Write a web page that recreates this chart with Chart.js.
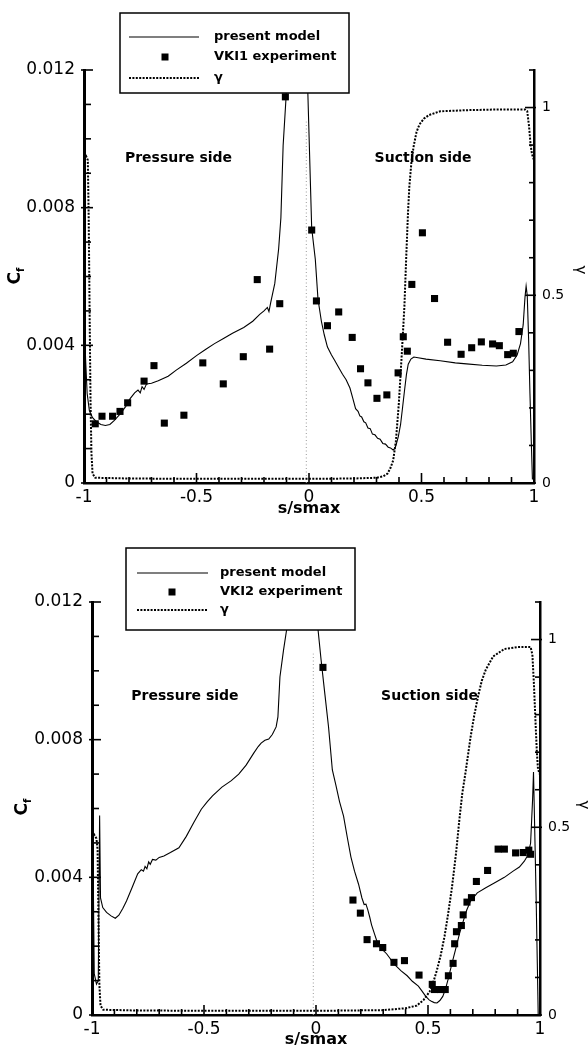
<!DOCTYPE html>
<html>
<head>
<meta charset="utf-8">
<script src="https://cdn.jsdelivr.net/npm/chart.js@4.4.1/dist/chart.umd.min.js"></script>
<style>
  body { margin: 0; background: #fff; width: 588px; height: 1049px; overflow: hidden; position: relative; }
  canvas { position: absolute; left: 0; }
  #c1 { top: 0; }
  #c2 { top: 530px; }
</style>
</head>
<body>
<canvas id="c1" width="588" height="520"></canvas>
<canvas id="c2" width="588" height="519"></canvas>
<script>
// axis ticks
const sTicks = [-1, -0.5, 0, 0.5, 1];
const sLabels = ['-1', '-0.5', '0', '0.5', '1'];
const sMinor = [-0.9, -0.8, -0.7, -0.6, -0.4, -0.3, -0.2, -0.1, 0.1, 0.2, 0.3, 0.4, 0.6, 0.7, 0.8, 0.9];
const cfTicks = [0, 0.004, 0.008, 0.012];
const cfLabels = ['0', '0.004', '0.008', '0.012'];
const cfMinor = [0.001, 0.002, 0.003, 0.005, 0.006, 0.007, 0.009, 0.010, 0.011];
const gammaTicks = [0, 0.5, 1];
const gammaLabels = ['0', '0.5', '1'];
const gammaMinor = [0.1, 0.2, 0.3, 0.4, 0.6, 0.7, 0.8, 0.9, 1.1];

// leading edge marker
const dividerS = [-0.012, -0.012];
const dividerCf = [0, 0.0105];

// VKI1 case
const vki1ModelS = [-1.000, -0.997, -0.993, -0.986, -0.976, -0.962, -0.945, -0.925, -0.905, -0.885, -0.865, -0.840, -0.815, -0.795, -0.775, -0.760, -0.750, -0.742, -0.733, -0.722, -0.700, -0.670, -0.626, -0.590, -0.545, -0.500, -0.460, -0.420, -0.380, -0.340, -0.290, -0.250, -0.219, -0.200, -0.185, -0.178, -0.170, -0.152, -0.135, -0.125, -0.115, -0.102, -0.090, -0.050, -0.020, -0.005, 0.012, 0.028, 0.040, 0.055, 0.068, 0.082, 0.100, 0.115, 0.135, 0.149, 0.165, 0.182, 0.195, 0.207, 0.218, 0.226, 0.234, 0.244, 0.252, 0.262, 0.272, 0.282, 0.293, 0.305, 0.316, 0.328, 0.340, 0.352, 0.362, 0.374, 0.380, 0.386, 0.397, 0.407, 0.416, 0.424, 0.433, 0.441, 0.453, 0.466, 0.485, 0.520, 0.583, 0.650, 0.700, 0.770, 0.833, 0.875, 0.905, 0.925, 0.940, 0.952, 0.960, 0.965, 0.970, 0.976, 0.982, 0.988, 0.993];
const vki1ModelCf = [0.0002, 0.0047, 0.0036, 0.0026, 0.0021, 0.0019, 0.00178, 0.00170, 0.00167, 0.00170, 0.00182, 0.00200, 0.00222, 0.00245, 0.00262, 0.00270, 0.00262, 0.00280, 0.00272, 0.00288, 0.00290, 0.00297, 0.00310, 0.00328, 0.00348, 0.00370, 0.00388, 0.00405, 0.00420, 0.00435, 0.00452, 0.00470, 0.00490, 0.00500, 0.00510, 0.00498, 0.00525, 0.00580, 0.00680, 0.00770, 0.00980, 0.01120, 0.01300, 0.01750, 0.01800, 0.01130, 0.00740, 0.00650, 0.00534, 0.00470, 0.00430, 0.00395, 0.00372, 0.00355, 0.00332, 0.00316, 0.00300, 0.00276, 0.00245, 0.00216, 0.00208, 0.00195, 0.00192, 0.00178, 0.00175, 0.00160, 0.00158, 0.00142, 0.00140, 0.00130, 0.00127, 0.00115, 0.00113, 0.00104, 0.00102, 0.00096, 0.00099, 0.00108, 0.00135, 0.00170, 0.00220, 0.00266, 0.00315, 0.00345, 0.00360, 0.00366, 0.00364, 0.00360, 0.00355, 0.00349, 0.00346, 0.00342, 0.00340, 0.00343, 0.00352, 0.00372, 0.00405, 0.00460, 0.00540, 0.00572, 0.00545, 0.00420, 0.00260, 0.00120, 0.00010];
const vki1GammaS = [-1.000, -0.990, -0.983, -0.979, -0.975, -0.971, -0.967, -0.962, -0.950, -0.800, -0.500, -0.200, 0.000, 0.200, 0.300, 0.330, 0.349, 0.362, 0.374, 0.386, 0.399, 0.412, 0.424, 0.432, 0.440, 0.446, 0.456, 0.466, 0.478, 0.491, 0.510, 0.533, 0.583, 0.700, 0.850, 0.960, 0.970, 0.978, 0.985, 0.991, 1.000];
const vki1Gamma = [0.86, 0.87, 0.86, 0.70, 0.45, 0.22, 0.08, 0.025, 0.014, 0.012, 0.011, 0.011, 0.011, 0.012, 0.014, 0.018, 0.025, 0.040, 0.060, 0.110, 0.210, 0.340, 0.470, 0.600, 0.720, 0.790, 0.860, 0.900, 0.935, 0.955, 0.970, 0.980, 0.990, 0.993, 0.995, 0.995, 0.990, 0.950, 0.900, 0.876, 0.860];
const vki1ExpS = [-0.950, -0.920, -0.873, -0.840, -0.806, -0.733, -0.689, -0.643, -0.556, -0.472, -0.381, -0.292, -0.230, -0.175, -0.130, -0.105, 0.012, 0.033, 0.082, 0.132, 0.192, 0.229, 0.262, 0.302, 0.346, 0.396, 0.419, 0.437, 0.457, 0.504, 0.558, 0.616, 0.676, 0.723, 0.766, 0.816, 0.846, 0.883, 0.908, 0.933];
const vki1ExpCf = [0.00172, 0.00194, 0.00194, 0.00208, 0.00233, 0.00296, 0.00341, 0.00174, 0.00197, 0.00349, 0.00288, 0.00367, 0.00591, 0.00389, 0.00521, 0.01122, 0.00735, 0.00529, 0.00457, 0.00497, 0.00423, 0.00332, 0.00291, 0.00246, 0.00256, 0.00320, 0.00425, 0.00383, 0.00577, 0.00727, 0.00536, 0.00409, 0.00374, 0.00393, 0.00410, 0.00404, 0.00399, 0.00373, 0.00377, 0.00440];

// VKI2 case
const vki2ModelS = [-1.000, -0.996, -0.990, -0.980, -0.972, -0.966, -0.962, -0.952, -0.935, -0.915, -0.896, -0.880, -0.862, -0.846, -0.820, -0.796, -0.780, -0.770, -0.763, -0.755, -0.747, -0.740, -0.730, -0.715, -0.700, -0.679, -0.650, -0.612, -0.579, -0.545, -0.512, -0.485, -0.462, -0.420, -0.378, -0.345, -0.312, -0.278, -0.258, -0.245, -0.228, -0.211, -0.195, -0.178, -0.170, -0.161, -0.145, -0.131, -0.110, -0.060, -0.020, 0.009, 0.023, 0.040, 0.056, 0.073, 0.089, 0.105, 0.123, 0.140, 0.156, 0.172, 0.190, 0.205, 0.215, 0.223, 0.231, 0.240, 0.248, 0.260, 0.273, 0.285, 0.300, 0.315, 0.330, 0.345, 0.357, 0.380, 0.407, 0.430, 0.457, 0.475, 0.490, 0.505, 0.515, 0.528, 0.540, 0.553, 0.566, 0.578, 0.590, 0.607, 0.624, 0.640, 0.657, 0.673, 0.690, 0.720, 0.758, 0.800, 0.841, 0.880, 0.908, 0.930, 0.941, 0.952, 0.958, 0.963, 0.967, 0.971, 0.977, 0.983, 0.988, 0.992];
const vki2ModelCf = [0.0000, 0.0050, 0.0012, 0.0009, 0.0010, 0.0058, 0.0034, 0.00312, 0.00298, 0.00288, 0.00281, 0.00290, 0.00310, 0.00331, 0.00372, 0.00410, 0.00422, 0.00418, 0.00432, 0.00425, 0.00445, 0.00438, 0.00452, 0.00450, 0.00458, 0.00462, 0.00472, 0.00486, 0.00519, 0.00560, 0.00598, 0.00620, 0.00637, 0.00662, 0.00681, 0.00700, 0.00726, 0.00761, 0.00780, 0.00790, 0.00798, 0.00802, 0.00815, 0.00837, 0.00866, 0.00982, 0.01060, 0.01120, 0.01300, 0.01900, 0.02000, 0.01120, 0.01030, 0.00930, 0.00837, 0.00712, 0.00667, 0.00620, 0.00578, 0.00515, 0.00459, 0.00418, 0.00380, 0.00340, 0.00321, 0.00322, 0.00306, 0.00284, 0.00262, 0.00238, 0.00212, 0.00203, 0.00188, 0.00178, 0.00165, 0.00150, 0.00143, 0.00128, 0.00114, 0.00098, 0.00084, 0.00068, 0.00054, 0.00044, 0.00040, 0.00036, 0.00035, 0.00042, 0.00054, 0.00075, 0.00104, 0.00150, 0.00193, 0.00235, 0.00272, 0.00305, 0.00331, 0.00355, 0.00370, 0.00385, 0.00400, 0.00418, 0.00430, 0.00447, 0.00459, 0.00482, 0.00499, 0.00570, 0.00627, 0.00706, 0.00520, 0.00331, 0.00150, 0.00000];
const vki2GammaS = [-1.000, -0.990, -0.980, -0.975, -0.971, -0.967, -0.962, -0.950, -0.800, -0.400, 0.000, 0.300, 0.400, 0.450, 0.480, 0.507, 0.525, 0.540, 0.557, 0.574, 0.590, 0.607, 0.625, 0.640, 0.653, 0.666, 0.690, 0.707, 0.724, 0.740, 0.758, 0.791, 0.841, 0.900, 0.958, 0.966, 0.973, 0.980, 0.986, 0.991, 1.000];
const vki2Gamma = [0.47, 0.48, 0.47, 0.44, 0.25, 0.08, 0.025, 0.014, 0.012, 0.011, 0.011, 0.013, 0.018, 0.025, 0.040, 0.062, 0.090, 0.120, 0.160, 0.210, 0.270, 0.340, 0.430, 0.520, 0.590, 0.640, 0.740, 0.800, 0.850, 0.890, 0.920, 0.955, 0.975, 0.980, 0.980, 0.960, 0.880, 0.780, 0.700, 0.655, 0.640];
const vki2ExpS = [0.031, 0.165, 0.198, 0.228, 0.270, 0.298, 0.348, 0.395, 0.460, 0.519, 0.529, 0.554, 0.577, 0.591, 0.612, 0.619, 0.627, 0.649, 0.657, 0.674, 0.694, 0.716, 0.766, 0.813, 0.841, 0.891, 0.925, 0.950, 0.958];
const vki2ExpCf = [0.0101, 0.00334, 0.00296, 0.00219, 0.00207, 0.00196, 0.00153, 0.00158, 0.00116, 0.00089, 0.00074, 0.00074, 0.00074, 0.00114, 0.00150, 0.00207, 0.00242, 0.00260, 0.00291, 0.00328, 0.00341, 0.00388, 0.00420, 0.00482, 0.00482, 0.00471, 0.00472, 0.00479, 0.00467];

const FONT = "'DejaVu Sans', sans-serif";
Chart.defaults.font.family = FONT;
Chart.defaults.color = '#000';

function pts(xs, ys) {
  return xs.map((x, i) => ({ x: x, y: ys[i] }));
}

function lineAt(ctx, x1, y1, x2, y2) {
  ctx.beginPath();
  ctx.moveTo(x1, y1);
  ctx.lineTo(x2, y2);
  ctx.stroke();
}

// inward tick marks, drawn through the scales
const tickMarks = {
  id: 'tickMarks',
  afterDatasetsDraw(chart) {
    const ctx = chart.ctx, a = chart.chartArea;
    const sx = chart.scales.x, sy = chart.scales.y, sg = chart.scales.yg;
    ctx.save();
    ctx.strokeStyle = '#000';
    ctx.lineWidth = 1.6;
    sTicks.forEach(v => { const x = sx.getPixelForValue(v); lineAt(ctx, x, a.bottom, x, a.bottom - 10); });
    sMinor.forEach(v => { const x = sx.getPixelForValue(v); lineAt(ctx, x, a.bottom, x, a.bottom - 6); });
    cfTicks.forEach(v => { const y = sy.getPixelForValue(v); lineAt(ctx, a.left - 3, y, a.left + 9, y); });
    cfMinor.forEach(v => { const y = sy.getPixelForValue(v); lineAt(ctx, a.left, y, a.left + 7, y); });
    gammaTicks.forEach(v => { const y = sg.getPixelForValue(v); lineAt(ctx, a.right + 2, y, a.right - 9, y); });
    gammaMinor.forEach(v => { const y = sg.getPixelForValue(v); lineAt(ctx, a.right, y, a.right - 5, y); });
    ctx.restore();
  }
};

// "Pressure side" / "Suction side" and the rotated axis titles
const notes = {
  id: 'notes',
  afterDatasetsDraw(chart, args, o) {
    const ctx = chart.ctx, sx = chart.scales.x, sy = chart.scales.y;
    ctx.save();
    ctx.fillStyle = '#000';
    ctx.font = 'bold 14px ' + FONT;
    ctx.textAlign = 'center';
    ctx.textBaseline = 'middle';
    o.items.forEach(n => ctx.fillText(n.text, sx.getPixelForValue(n.s), sy.getPixelForValue(n.cf)));

    // C_f
    ctx.translate(o.cf[0], o.cf[1]);
    ctx.rotate(-Math.PI / 2);
    ctx.textAlign = 'left';
    ctx.font = 'bold 17px ' + FONT;
    const wC = ctx.measureText('C').width;
    ctx.font = 'bold 10px ' + FONT;
    const wf = ctx.measureText('f').width;
    const x0 = -(wC + wf) / 2;
    ctx.font = 'bold 17px ' + FONT;
    ctx.fillText('C', x0, 0);
    ctx.font = 'bold 10px ' + FONT;
    ctx.fillText('f', x0 + wC, 5);
    ctx.setTransform(1, 0, 0, 1, 0, 0);

    // gamma
    ctx.translate(o.g[0], o.g[1]);
    ctx.rotate(Math.PI / 2);
    ctx.textAlign = 'center';
    ctx.font = '15px ' + FONT;
    ctx.fillText('γ', 0, 0);
    ctx.restore();
  }
};

const boxLegend = {
  id: 'boxLegend',
  afterDraw(chart, args, o) {
    const ctx = chart.ctx;
    ctx.save();
    ctx.fillStyle = '#fff';
    ctx.fillRect(o.x, o.y, o.w, o.h);
    ctx.strokeStyle = '#000';
    ctx.lineWidth = 1.5;
    ctx.strokeRect(o.x, o.y, o.w, o.h);
    ctx.font = 'bold 13px ' + FONT;
    ctx.textBaseline = 'middle';
    chart.data.datasets.filter(d => d.label).forEach((d, i) => {
      const y = o.y + o.rows[i];
      ctx.fillStyle = '#000';
      if (d.showLine) {
        ctx.strokeStyle = d.borderColor;
        ctx.lineWidth = d.borderWidth;
        ctx.setLineDash(d.borderDash || []);
        lineAt(ctx, o.x + o.from, y, o.x + o.to, y);
        ctx.setLineDash([]);
      } else {
        ctx.fillRect(o.x + o.mark - 3.5, y - 3.5, 7, 7);
      }
      ctx.fillText(d.label, o.x + o.text, y);
    });
    ctx.restore();
  }
};

function makeChart(id, c) {
  return new Chart(document.getElementById(id), {
    type: 'scatter',
    data: {
      datasets: [
        { label: 'present model', data: pts(c.modelS, c.modelCf), showLine: true, borderColor: '#000', borderWidth: 1.1, pointRadius: 0, yAxisID: 'y' },
        { label: c.expLabel, data: pts(c.expS, c.expCf), showLine: false, pointStyle: 'rect', pointRadius: 5, backgroundColor: '#000', borderColor: '#000', borderWidth: 0, yAxisID: 'y' },
        { label: 'γ', data: pts(c.gS, c.g), showLine: true, borderColor: '#000', borderWidth: 2, borderDash: [2, 1.4], pointRadius: 0, yAxisID: 'yg' },
        { label: '', data: pts(dividerS, dividerCf), showLine: true, borderColor: '#9a9a9a', borderWidth: 1, borderDash: [1, 2.5], pointRadius: 0, yAxisID: 'y', order: 1 }
      ]
    },
    options: {
      responsive: false,
      animation: false,
      events: [],
      layout: { padding: { left: 0, right: 0, top: c.top, bottom: 0 } },
      plugins: {
        legend: { display: false },
        tooltip: { enabled: false },
        boxLegend: c.legend,
        notes: c.notes
      },
      scales: {
        x: {
          type: 'linear', position: 'bottom', min: -1, max: 1,
          afterBuildTicks: ax => { ax.ticks = sTicks.map(v => ({ value: v })); },
          afterFit: ax => { ax.height = c.xH; },
          ticks: { font: { size: 17 }, padding: 4, maxRotation: 0, autoSkip: false,
                   callback: v => sLabels[sTicks.indexOf(v)] },
          grid: { drawOnChartArea: false, drawTicks: false },
          border: { display: true, color: '#000', width: 2.5 },
          title: { display: true, text: 's/smax', font: { size: 16, weight: 'bold' }, padding: { top: 0, bottom: c.titlePad } }
        },
        y: {
          type: 'linear', position: 'left', min: 0, max: 0.012,
          afterBuildTicks: ax => { ax.ticks = cfTicks.map(v => ({ value: v })); },
          afterFit: ax => { ax.width = c.leftW; },
          ticks: { font: { size: 17 }, padding: 9, callback: v => cfLabels[cfTicks.indexOf(v)] },
          grid: { drawOnChartArea: false, drawTicks: false },
          border: { display: true, color: '#000', width: 3 }
        },
        yg: {
          type: 'linear', position: 'right', min: 0, max: 1.1,
          afterBuildTicks: ax => { ax.ticks = gammaTicks.map(v => ({ value: v })); },
          afterFit: ax => { ax.width = c.rightW; },
          ticks: { font: { size: 14 }, padding: 8, callback: v => gammaLabels[gammaTicks.indexOf(v)] },
          grid: { drawOnChartArea: false, drawTicks: false },
          border: { display: true, color: '#000', width: 2.5 }
        }
      }
    },
    plugins: [tickMarks, notes, boxLegend]
  });
}

makeChart('c1', {
  modelS: vki1ModelS, modelCf: vki1ModelCf, gS: vki1GammaS, g: vki1Gamma,
  expS: vki1ExpS, expCf: vki1ExpCf, expLabel: 'VKI1 experiment',
  top: 70, xH: 37, leftW: 84, rightW: 54, titlePad: 2,
  legend: { x: 120, y: 13, w: 229, h: 80, rows: [24, 44, 65], from: 9, to: 79, mark: 45, text: 94 },
  notes: {
    items: [{ text: 'Pressure side', s: -0.58, cf: 0.00944 }, { text: 'Suction side', s: 0.507, cf: 0.00944 }],
    cf: [16, 276], g: [580, 270]
  }
});

makeChart('c2', {
  modelS: vki2ModelS, modelCf: vki2ModelCf, gS: vki2GammaS, g: vki2Gamma,
  expS: vki2ExpS, expCf: vki2ExpCf, expLabel: 'VKI2 experiment',
  top: 72, xH: 34, leftW: 92, rightW: 48, titlePad: 0,
  legend: { x: 126, y: 18, w: 229, h: 82, rows: [25, 44, 62], from: 11, to: 82, mark: 46, text: 94 },
  notes: {
    items: [{ text: 'Pressure side', s: -0.585, cf: 0.00927 }, { text: 'Suction side', s: 0.507, cf: 0.00927 }],
    cf: [23, 277], g: [583, 275]
  }
});
</script>
</body>
</html>
